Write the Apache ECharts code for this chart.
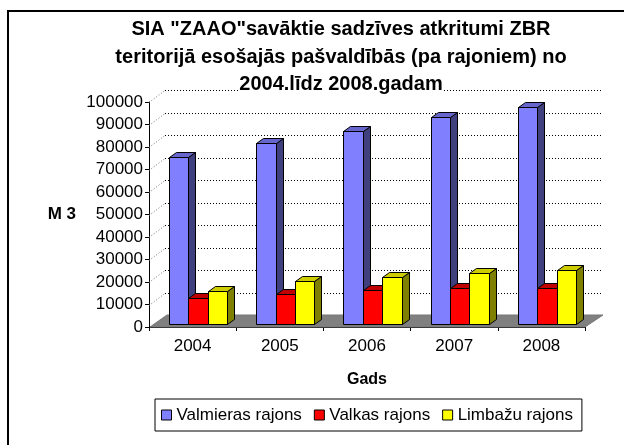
<!DOCTYPE html>
<html><head><meta charset="utf-8">
<script src="https://cdn.jsdelivr.net/npm/echarts@6/dist/echarts.min.js"></script>
<style>html,body{margin:0;padding:0;background:#fff}#c{width:624px;height:445px}</style>
</head><body><div id="c"></div>
<script>
// ---- data ----
const categories = ['2004', '2005', '2006', '2007', '2008'];
const seriesNames = ['Valmieras rajons', 'Valkas rajons', 'Limbažu rajons'];
const valmieras = [74400, 80600, 85600, 91900, 96300];
const valkas = [11400, 13200, 15300, 15900, 15900];
const limbazu = [14500, 19000, 20700, 22700, 23900];
const yTickValues = [0, 10000, 20000, 30000, 40000, 50000, 60000, 70000, 80000, 90000, 100000];
const titleLines = ['SIA "ZAAO"savāktie sadzīves atkritumi ZBR', 'teritorijā esošajās pašvaldībās (pa rajoniem) no', '2004.līdz 2008.gadam'];
const yName = 'M 3';
const xName = 'Gads';

// ---- style ----
const FONT = '"Liberation Sans", Arial, sans-serif';
const WDX = 16, WDY = -12;      // back wall offset
const BY = -3;                  // bar plane offset
const DDX = 7, DDY = -5;        // bar depth
const palette = [
  {front: '#8080FF', side: '#40407F', top: '#6666CC'},
  {front: '#FF0000', side: '#800000', top: '#C00000'},
  {front: '#FFFF00', side: '#808000', top: '#CCCC00'}
];

function barRenderer(k) {
  const c = palette[k];
  return function (params, api) {
    const idx = api.value(0), v = api.value(1);
    const base = api.coord([idx, 0]);
    const top = api.coord([idx, v]);
    const band = api.size([1, 0])[0];
    const w = band * 0.222;
    const x0 = Math.round(base[0] - band / 2 + band * 0.23 + k * w) + 0.5;
    const x1 = Math.round(base[0] - band / 2 + band * 0.23 + (k + 1) * w) + 0.5;
    const yb = Math.round(base[1] + BY) + 0.5;
    const yt = Math.round(top[1] + BY) + 0.5;
    const st = {stroke: '#000', lineWidth: 1, lineJoin: 'miter'};
    return {
      type: 'group',
      children: [
        {type: 'polygon', shape: {points: [[x0, yt], [x1, yt], [x1, yb], [x0, yb]]}, style: Object.assign({fill: c.front}, st)},
        {type: 'polygon', shape: {points: [[x1, yt], [x1 + DDX, yt + DDY], [x1 + DDX, yb + DDY], [x1, yb]]}, style: Object.assign({fill: c.side}, st)},
        {type: 'polygon', shape: {points: [[x0, yt], [x0 + DDX, yt + DDY], [x1 + DDX, yt + DDY], [x1, yt]]}, style: Object.assign({fill: c.top}, st)}
      ]
    };
  };
}

function gridRender(params, api) {
  const v = api.value(1);
  const cs = params.coordSys;
  const y = Math.round(api.coord([0, v])[1]) + 0.5;
  const children = [];
  if (v > 0) {
    children.push({type: 'line', shape: {x1: cs.x, y1: y, x2: cs.x + WDX, y2: y + WDY},
      style: {stroke: '#777', lineWidth: 1, lineDash: [1, 2]}});
    children.push({type: 'line', shape: {x1: cs.x + WDX, y1: y + WDY, x2: cs.x + cs.width + WDX + 2, y2: y + WDY},
      style: {stroke: '#000', lineWidth: 1, lineDash: [1, 2]}});
  }
  return {type: 'group', children: children};
}

function floorRender(params, api) {
  const cs = params.coordSys;
  const y0 = api.coord([0, 0])[1];
  return {
    type: 'polygon',
    shape: {points: [[cs.x + 1, y0], [cs.x + cs.width, y0], [cs.x + cs.width + WDX + 2, y0 + WDY], [cs.x + WDX + 2, y0 + WDY]]},
    style: {fill: '#808080', stroke: '#777', lineWidth: 1}
  };
}

const barData = [valmieras, valkas, limbazu];
const series = [
  {type: 'custom', name: 'floor', renderItem: floorRender, data: [[0, 0]], z: 1, silent: true, encode: {x: 0, y: 1}},
  {type: 'custom', name: 'grid', renderItem: gridRender, data: yTickValues.map(v => [0, v]), z: 1, silent: true, encode: {x: 0, y: 1}}
];
seriesNames.forEach((n, k) => {
  series.push({
    type: 'custom', name: n, z: 3,
    renderItem: barRenderer(k),
    itemStyle: {color: palette[k].front, borderColor: '#000', borderWidth: 1},
    data: barData[k].map((v, i) => [i, v]),
    encode: {x: 0, y: 1}
  });
});

const chart = echarts.init(document.getElementById('c'), null, {renderer: 'canvas'});
chart.setOption({
  animation: false,
  backgroundColor: '#fff',
  textStyle: {fontFamily: FONT},
  title: {
    text: '{a|' + titleLines[0] + '}\n{a|' + titleLines[1] + '}\n{b|' + titleLines[2] + '}',
    left: 341, top: 16, textAlign: 'center', padding: 0,
    textStyle: {
      rich: {
        a: {fontFamily: FONT, fontSize: 20, fontWeight: 'bold', color: '#000', lineHeight: 27.5},
        b: {fontFamily: FONT, fontSize: 20, fontWeight: 'bold', color: '#000', lineHeight: 27.5, backgroundColor: '#fff'}
      }
    }
  },
  legend: {
    data: seriesNames,
    left: 155, top: 399,
    padding: [7, 9, 7, 6],
    itemGap: 12, itemWidth: 10, itemHeight: 10,
    icon: 'rect',
    borderColor: '#000', borderWidth: 1,
    itemStyle: {borderColor: '#000', borderWidth: 1},
    textStyle: {fontFamily: FONT, fontSize: 17, color: '#000', lineHeight: 18}
  },
  grid: {left: 149, right: 39, top: 102, bottom: 118},
  xAxis: {
    type: 'category', data: categories,
    name: xName, nameLocation: 'middle', nameGap: 45,
    nameTextStyle: {fontFamily: FONT, fontSize: 16, fontWeight: 'bold', color: '#000'},
    axisLine: {lineStyle: {color: '#000', width: 1}},
    axisTick: {show: true, length: 4, lineStyle: {color: '#000'}},
    axisLabel: {fontFamily: FONT, fontSize: 17, color: '#000', margin: 11},
    splitLine: {show: false}
  },
  yAxis: {
    type: 'value', min: 0, max: 100000, interval: 10000,
    name: yName, nameLocation: 'middle', nameGap: 73, nameRotate: 0,
    nameTextStyle: {fontFamily: FONT, fontSize: 17, fontWeight: 'bold', color: '#000'},
    axisLine: {show: true, lineStyle: {color: '#000', width: 1}},
    axisTick: {show: true, length: 4, lineStyle: {color: '#000'}},
    axisLabel: {fontFamily: FONT, fontSize: 17, color: '#000', margin: 6, formatter: v => String(v)},
    splitLine: {show: false}
  },
  graphic: [{
    type: 'polyline', silent: true, z: 100,
    shape: {points: [[8, 445], [8, 11], [624, 11]]},
    style: {stroke: '#000', lineWidth: 2, fill: null}
  }],
  series: series
});
</script>
</body></html>
